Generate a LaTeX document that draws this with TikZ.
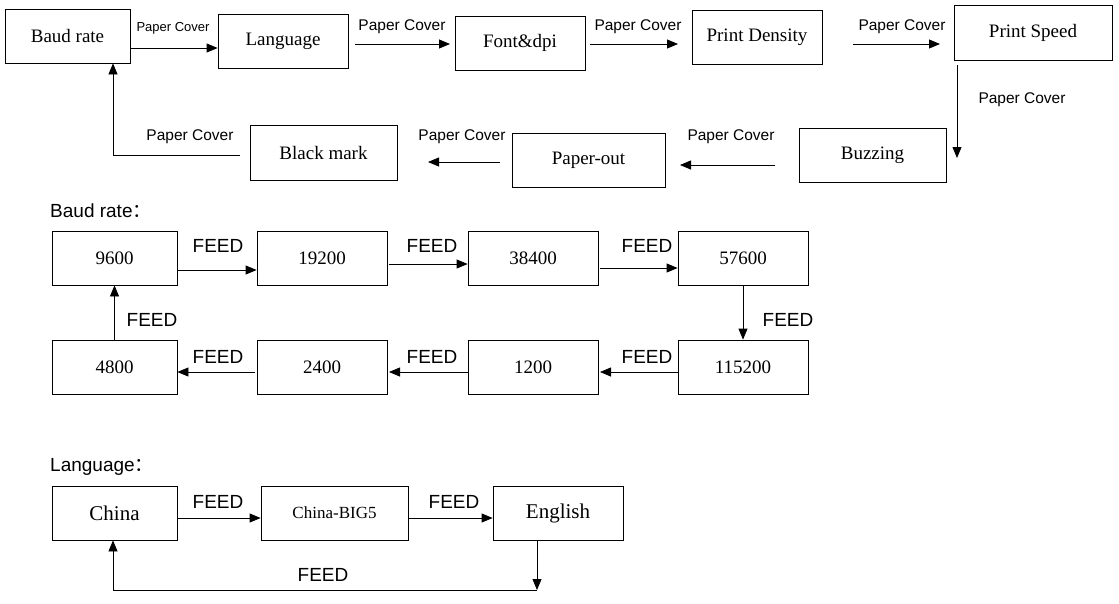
\documentclass[tikz,border=0pt]{standalone}
\usepackage{fontspec}
\setmainfont{Liberation Serif}
\newfontfamily\lab{Liberation Sans}
\newfontfamily\cjk{Noto Sans CJK SC}
\usetikzlibrary{arrows.meta}
\tikzset{
	box/.style={draw, thick, minimum height=54, inner sep=0pt, font=\fontsize{19}{19}\selectfont},
	lbl/.style={font=\lab\fontsize{15.5}{15.5}\selectfont},
	feed/.style={font=\lab\fontsize{19}{19}\selectfont},
	arr/.style={thick, -{Triangle[length=11,width=9]}}
}
\begin{document}
\begin{tikzpicture}[x=1pt,y=-1pt]
	\useasboundingbox (0,0) rectangle (1119,603);

	% menu cycle
	\node[box, minimum width=125] (baud) at (67.5,36) {Baud rate};
	\node[box, minimum width=130] (lang) at (283,41) {Language};
	\node[box, minimum width=130] (font) at (520,43) {Font\&dpi};
	\node[box, minimum width=130] (dens) at (757,37) {Print Density};
	\node[box, minimum width=158, minimum height=55] (speed) at (1033,32.5) {Print Speed};
	\node[box, minimum width=147] (buzz) at (872.5,155) {Buzzing};
	\node[box, minimum width=153] (pout) at (588.5,160) {Paper-out};
	\node[box, minimum width=147, minimum height=55] (black) at (323.5,152.5) {Black mark};

	\draw[arr] (baud.east|-0,48) -- (lang.west|-0,48);
	\draw[arr] (355,44) -- (450,44);
	\draw[arr] (590,44) -- (678,44);
	\draw[arr] (853,44) -- (940,44);
	\draw[arr] (957,65) -- (957,158);
	\draw[arr] (775,165) -- (680,165);
	\draw[arr] (500,162) -- (428,162);
	\coordinate (bk) at (240,155);
	\draw[arr] (bk) -- (113,155) -- (baud.south-|113,0);
	\node[lbl, font=\lab\fontsize{13}{13}\selectfont] (pc1) at (173,28) {Paper Cover};
	\node[lbl] (pc2) at (402,27) {Paper Cover};
	\node[lbl] (pc3) at (638,27) {Paper Cover};
	\node[lbl] (pc4) at (902,27) {Paper Cover};
	\node[lbl] (pc5) at (1022,100) {Paper Cover};
	\node[lbl] (pc6) at (731,137) {Paper Cover};
	\node[lbl] (pc7) at (462,137) {Paper Cover};
	\node[lbl] (pc8) at (190,137) {Paper Cover};

	% baud rate
	\node[feed, anchor=west, inner sep=0pt] (tbaud) at (50,211) {Baud rate{\cjk ：}};
	\node[box, minimum width=125] (b9600) at (114.5,258) {9600};
	\node[box, minimum width=130] (b19200) at (322,258) {19200};
	\node[box, minimum width=130] (b38400) at (533,258) {38400};
	\node[box, minimum width=130] (b57600) at (743,258) {57600};
	\node[box, minimum width=125] (b4800) at (114.5,367) {4800};
	\node[box, minimum width=130] (b2400) at (322,367) {2400};
	\node[box, minimum width=130] (b1200) at (533,367) {1200};
	\node[box, minimum width=130] (b115200) at (743,367) {115200};

	\draw[arr] (b9600.east|-0,270) -- (b19200.west|-0,270);
	\draw[arr] (389,264) -- (b38400.west|-0,264);
	\draw[arr] (600,268) -- (b57600.west|-0,268);
	\draw[arr] (b57600) -- (b115200);
	\draw[arr] (b115200.west|-0,372) -- (600,372);
	\draw[arr] (b1200.west|-0,372) -- (389,372);
	\draw[arr] (255,372) -- (b4800.east|-0,372);
	\draw[arr] (b4800) -- (b9600);
	\node[feed] (f1) at (218,246) {FEED};
	\node[feed] (f2) at (432,246) {FEED};
	\node[feed] (f3) at (647,246) {FEED};
	\node[feed] (f4) at (788,320) {FEED};
	\node[feed] (f5) at (647,357) {FEED};
	\node[feed] (f6) at (432,357) {FEED};
	\node[feed] (f7) at (218,357) {FEED};
	\node[feed] (f8) at (152,320) {FEED};

	% language
	\node[feed, anchor=west, inner sep=0pt] (tlang) at (50,467) {Language{\cjk ：}};
	\node[box, minimum width=125, font=\fontsize{21}{21}\selectfont] (china) at (114.5,513) {China};
	\node[box, minimum width=147, font=\fontsize{17}{17}\selectfont] (big5) at (334.5,513) {China-BIG5};
	\node[box, minimum width=130, font=\fontsize{21}{21}\selectfont] (eng) at (558,513) {English};

	\draw[arr] (china.east|-0,518) -- (big5.west|-0,518);
	\draw[arr] (big5.east|-0,518) -- (eng.west|-0,518);
	\coordinate (ret) at (537,590);
	\draw[arr] (eng.south-|537,0) -- (ret);
	\draw[arr] (ret) -- (113,590) -- (china.south-|113,0);
	\node[feed] (f9) at (218,502) {FEED};
	\node[feed] (f10) at (454,502) {FEED};
	\node[feed] (f11) at (323,575) {FEED};
\end{tikzpicture}
\end{document}
